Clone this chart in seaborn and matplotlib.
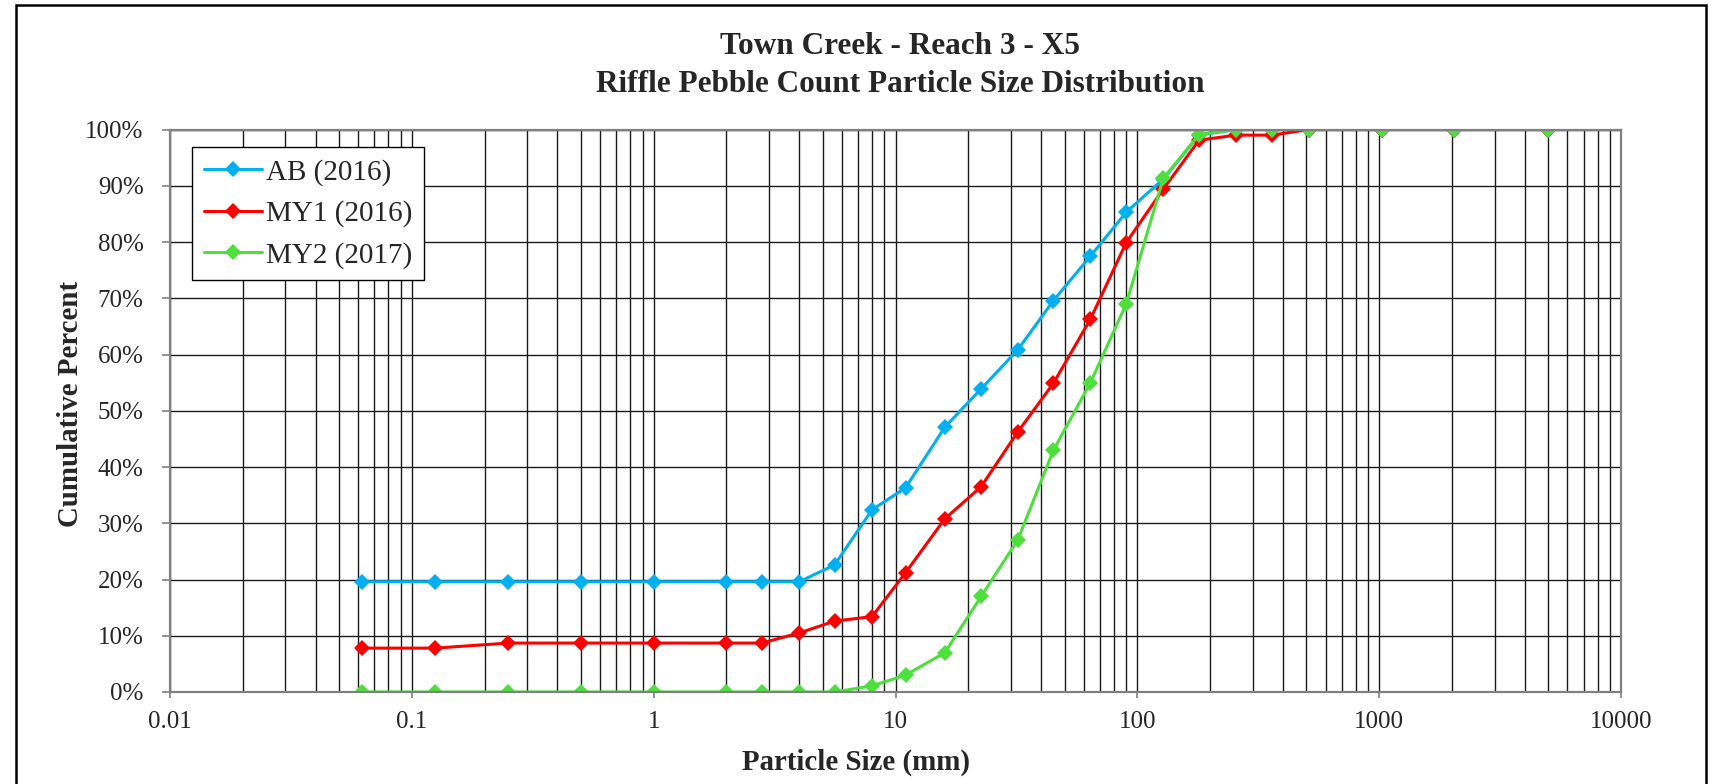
import pandas as pd
import seaborn as sns
import matplotlib.pyplot as plt
from matplotlib.ticker import LogLocator, FuncFormatter, PercentFormatter, MultipleLocator, NullFormatter
from matplotlib.patches import Rectangle

# Particle size classes (mm) and cumulative percent finer for each survey
sizes = [0.062, 0.125, 0.25, 0.5, 1, 2, 2.8, 4, 5.6, 8, 11, 16, 22.6, 32, 45,
         64, 90, 128, 180, 256, 362, 512, 1024, 2048, 5000]
ab_2016 = [19.6, 19.6, 19.6, 19.6, 19.6, 19.6, 19.6, 19.6, 22.6, 32.4, 36.3, 47.1,
           53.9, 60.8, 69.6, 77.5, 85.3, 91.2, 99.0, 100, 100, 100, 100, 100, 100]
my1_2016 = [7.8, 7.8, 8.7, 8.7, 8.7, 8.7, 8.7, 10.5, 12.6, 13.4, 21.2, 30.8,
            36.5, 46.2, 54.9, 66.3, 79.9, 89.4, 98.1, 99.0, 99.0, 100, 100, 100, 100]
my2_2017 = [0, 0, 0, 0, 0, 0, 0, 0, 0, 1.1, 3.0, 7.0,
            17.0, 27.0, 43.0, 55.0, 69.0, 91.3, 99.1, 100, 100, 100, 100, 100, 100]
series_names = ['AB (2016)', 'MY1 (2016)', 'MY2 (2017)']
series_colors = ['#00B0F0', '#FF0000', '#4DE03C']
x_ticks = [0.01, 0.1, 1, 10, 100, 1000, 10000]

df = pd.concat([
    pd.DataFrame({'size': sizes, 'pct': vals, 'series': name})
    for name, vals in zip(series_names, [ab_2016, my1_2016, my2_2017])
])

sns.set_style('white')
plt.rcParams['font.family'] = ['Liberation Serif', 'DejaVu Serif']

W, H = 1714, 784
fig = plt.figure(figsize=(W / 100, H / 100), dpi=100)
ax = fig.add_axes([170 / W, 1 - 692 / H, (1621 - 170) / W, (692 - 129.5) / H])

sns.lineplot(data=df, x='size', y='pct', hue='series', palette=series_colors,
             estimator=None, errorbar=None, sort=False, legend=False,
             marker='D', markersize=8.5, markeredgewidth=0, linewidth=2.2, ax=ax)

ax.set_xscale('log')
ax.set_xlim(0.01, 10000)
ax.set_ylim(0, 100)

# ticks and grid
ax.set_xticks(x_ticks)
ax.xaxis.set_minor_locator(LogLocator(base=10, subs=range(2, 10), numticks=100))
ax.xaxis.set_major_formatter(FuncFormatter(lambda v, p: '{:g}'.format(v)))
ax.xaxis.set_minor_formatter(NullFormatter())
ax.yaxis.set_major_locator(MultipleLocator(10))
ax.yaxis.set_major_formatter(PercentFormatter(100, decimals=0))

ax.grid(True, which='both', axis='x', color='#1a1a1a', linewidth=1.0)
ax.grid(True, which='major', axis='y', color='#1a1a1a', linewidth=1.0)
ax.set_axisbelow(True)

ax.tick_params(axis='x', which='major', direction='out', length=4.5, width=1.2,
               color='#808080', labelsize=18, pad=9.5, bottom=True)
ax.tick_params(axis='x', which='minor', length=0)
ax.tick_params(axis='y', direction='out', length=6, width=1.2, color='#808080',
               labelsize=18, pad=13, left=True)

for sp in ax.spines.values():
    sp.set_color('#808080')
    sp.set_linewidth(1.6)

ax.set_xlabel('')
ax.set_ylabel('')

# titles and axis labels
fig.text(900 / W, 1 - 46 / H, 'Town Creek - Reach 3 - X5', ha='center', va='center',
         fontsize=22.5, fontweight='bold')
fig.text(900 / W, 1 - 85 / H, 'Riffle Pebble Count Particle Size Distribution',
         ha='center', va='center', fontsize=22.5, fontweight='bold')
fig.text(856 / W, 1 - 762 / H, 'Particle Size (mm)', ha='center', va='center',
         fontsize=20.8, fontweight='bold')
fig.text(70 / W, 1 - 404 / H, 'Cumulative Percent', ha='center', va='center',
         rotation=90, fontsize=20.8, fontweight='bold')

leg = ax.legend(ax.lines[:3], series_names, loc='upper left',
                bbox_to_anchor=(192 / W, 1 - 147 / H), bbox_transform=fig.transFigure,
                borderaxespad=0, fontsize=21, frameon=True, fancybox=False,
                framealpha=1, edgecolor='black', handlelength=2.0,
                handletextpad=0.12, labelspacing=0.5, borderpad=0.4)
leg.get_frame().set_linewidth(1.0)

# outer chart border
fig.patches.append(Rectangle((16 / W, -0.02), (1706 - 16) / W, 1.02 - 5 / H,
                             transform=fig.transFigure, fill=False,
                             edgecolor='black', linewidth=1.8))

fig.savefig('out.png', dpi=100)
